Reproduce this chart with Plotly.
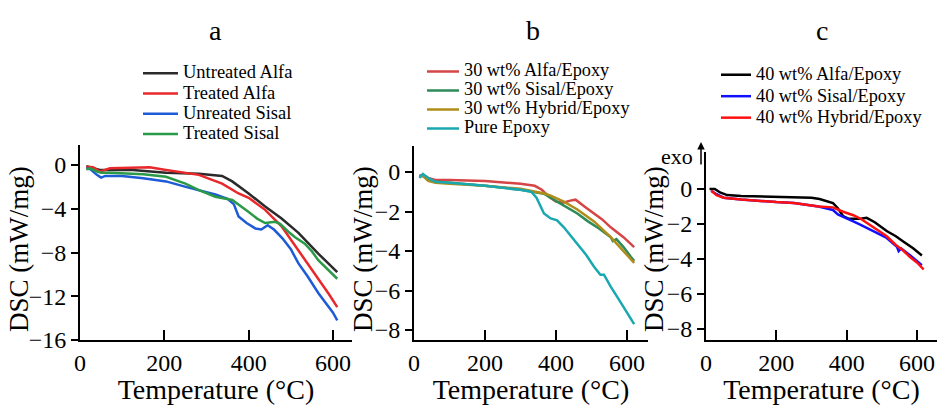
import plotly.graph_objects as go

# ---------------- Data (panel a) ----------------
a_black_T = [15, 25, 35, 47, 70, 125, 204, 250, 282, 337, 361, 400, 439, 478, 518, 565, 590, 610]
a_black_v = [-0.1, -0.2, -0.35, -0.45, -0.45, -0.45, -0.7, -0.75, -0.8, -1.0, -1.5, -2.6, -3.8, -4.9, -6.2, -8.1, -9.0, -9.8]

a_red_T = [15, 25, 31, 47, 71, 120, 165, 204, 243, 282, 337, 376, 400, 439, 478, 518, 549, 565, 590, 610]
a_red_v = [-0.15, -0.15, -0.2, -0.6, -0.3, -0.25, -0.2, -0.45, -0.7, -0.9, -1.7, -2.6, -3.0, -4.1, -5.6, -7.8, -9.6, -10.5, -11.8, -13.0]

a_blue_T = [15, 25, 40, 50, 60, 100, 150, 204, 251, 321, 350, 365, 376, 395, 416, 430, 445, 460, 480, 500, 518, 540, 565, 585, 600, 610]
a_blue_v = [-0.3, -0.4, -0.9, -1.15, -1.0, -1.0, -1.2, -1.5, -2.0, -2.7, -3.1, -3.6, -4.7, -5.3, -5.8, -5.9, -5.5, -5.9, -6.7, -7.7, -9.0, -10.2, -11.7, -12.7, -13.5, -14.2]

a_green_T = [15, 25, 40, 50, 70, 100, 150, 204, 250, 282, 321, 361, 380, 400, 420, 439, 463, 475, 494, 510, 533, 550, 565, 590, 610]
a_green_v = [-0.4, -0.3, -0.6, -0.7, -0.7, -0.75, -0.85, -1.07, -1.7, -2.3, -2.9, -3.2, -3.7, -4.3, -4.9, -5.3, -5.2, -5.4, -6.1, -6.6, -7.2, -7.9, -8.7, -9.6, -10.4]

# ---------------- Data (panel b) ----------------
b_red_T = [15, 25, 40, 60, 100, 200, 300, 340, 360, 380, 400, 420, 440, 455, 480, 507, 530, 554, 590, 620]
b_red_v = [-0.2, -0.15, -0.3, -0.4, -0.4, -0.45, -0.6, -0.7, -0.9, -1.25, -1.5, -1.55, -1.45, -1.4, -1.75, -2.1, -2.4, -2.8, -3.3, -3.8]

b_green_T = [15, 25, 40, 60, 100, 200, 300, 340, 366, 403, 430, 460, 490, 507, 520, 554, 560, 570, 590, 611, 620]
b_green_v = [-0.2, -0.2, -0.4, -0.5, -0.55, -0.7, -0.9, -1.0, -1.1, -1.5, -1.8, -2.1, -2.5, -2.7, -2.85, -3.3, -3.5, -3.4, -3.8, -4.3, -4.5]

b_olive_T = [15, 25, 40, 60, 100, 200, 300, 340, 370, 385, 422, 460, 507, 554, 580, 611, 620]
b_olive_v = [-0.2, -0.2, -0.45, -0.55, -0.6, -0.7, -0.85, -1.0, -1.1, -1.2, -1.5, -1.9, -2.5, -3.3, -3.8, -4.4, -4.6]

b_cyan_T = [15, 25, 40, 60, 100, 200, 300, 330, 345, 356, 366, 385, 403, 422, 440, 460, 485, 507, 525, 535, 554, 582, 600, 620]
b_cyan_v = [-0.3, -0.1, -0.3, -0.5, -0.55, -0.7, -0.9, -1.0, -1.3, -1.7, -2.1, -2.35, -2.45, -2.8, -3.2, -3.6, -4.2, -4.8, -5.2, -5.2, -5.8, -6.6, -7.1, -7.7]

# ---------------- Data (panel c) ----------------
c_black_T = [10, 25, 40, 60, 100, 200, 300, 323, 361, 375, 390, 405, 420, 440, 457, 480, 514, 540, 561, 590, 614]
c_black_v = [0.0, 0.0, -0.2, -0.35, -0.4, -0.45, -0.5, -0.57, -0.8, -1.1, -1.55, -1.7, -1.7, -1.7, -1.65, -1.9, -2.4, -2.7, -3.0, -3.4, -3.8]

c_blue_T = [15, 30, 50, 100, 200, 250, 320, 345, 361, 375, 390, 419, 440, 467, 490, 514, 543, 548, 555, 581, 600, 614]
c_blue_v = [-0.1, -0.3, -0.5, -0.6, -0.75, -0.8, -1.0, -1.1, -1.2, -1.45, -1.6, -1.85, -2.05, -2.3, -2.55, -2.8, -3.3, -3.55, -3.4, -3.8, -4.1, -4.35]

c_red_T = [15, 30, 50, 100, 200, 250, 320, 361, 390, 419, 440, 467, 490, 514, 540, 560, 581, 600, 619]
c_red_v = [-0.1, -0.35, -0.5, -0.6, -0.75, -0.8, -1.0, -1.05, -1.3, -1.5, -1.7, -2.05, -2.35, -2.7, -3.2, -3.5, -3.9, -4.2, -4.6]

x_ticks = [0, 200, 400, 600]
panel_labels = ["a", "b", "c"]
y_title = "DSC (mW/mg)"
x_title = "Temperature (°C)"

FONT = "Liberation Serif, Times New Roman, serif"
W, H = 937, 405

fig = go.Figure()

def add(xs, ys, name, color, xa, ya, legend, fs):
    fig.add_trace(go.Scatter(x=xs, y=ys, mode="lines",
                             name=f'<span style="font-size:{fs}px">{name}</span>',
                             line=dict(color=color, width=2.5),
                             xaxis=xa, yaxis=ya, legend=legend))

add(a_black_T, a_black_v, "Untreated Alfa", "#2b2b2b", "x", "y", "legend", 18.5)
add(a_red_T, a_red_v, "Treated Alfa", "#e8282b", "x", "y", "legend", 18.5)
add(a_blue_T, a_blue_v, "Unreated Sisal", "#1e5bd6", "x", "y", "legend", 18.5)
add(a_green_T, a_green_v, "Treated Sisal", "#2a9a48", "x", "y", "legend", 18.5)

add(b_red_T, b_red_v, "30 wt% Alfa/Epoxy", "#d64545", "x2", "y2", "legend2", 18.3)
add(b_green_T, b_green_v, "30 wt% Sisal/Epoxy", "#2e8b57", "x2", "y2", "legend2", 18.3)
add(b_olive_T, b_olive_v, "30 wt% Hybrid/Epoxy", "#b08c1a", "x2", "y2", "legend2", 18.3)
add(b_cyan_T, b_cyan_v, "Pure Epoxy", "#1aa8b0", "x2", "y2", "legend2", 18.3)

add(c_black_T, c_black_v, "40 wt% Alfa/Epoxy", "#000000", "x3", "y3", "legend3", 18.3)
add(c_blue_T, c_blue_v, "40 wt% Sisal/Epoxy", "#1010ff", "x3", "y3", "legend3", 18.3)
add(c_red_T, c_red_v, "40 wt% Hybrid/Epoxy", "#ff1010", "x3", "y3", "legend3", 18.3)

def px_x(p):
    return p / W

def px_y(p):
    return 1 - p / H

xcommon = dict(showline=True, linecolor="black", linewidth=2, ticks="inside", ticklen=10,
               tickwidth=2, tickcolor="black", showgrid=False, zeroline=False,
               tickvals=x_ticks, tickfont=dict(family=FONT, size=24, color="black"),
               ticklabelstandoff=0,
               title=dict(text=x_title, font=dict(family=FONT, size=28, color="black"), standoff=0),
               automargin=False)
ycommon = dict(showline=True, linecolor="black", linewidth=2, ticks="outside", ticklen=7,
               tickwidth=2, tickcolor="black", showgrid=False, zeroline=False,
               tickfont=dict(family=FONT, size=24, color="black"),
               automargin=False)

fig.update_layout(
    width=W, height=H, autosize=False,
    margin=dict(l=0, r=0, t=0, b=0),
    plot_bgcolor="white", paper_bgcolor="white",
    font=dict(family=FONT, color="black"),
    xaxis=dict(xcommon, domain=[px_x(80), px_x(352)], range=[0, 645], anchor="y"),
    yaxis=dict(ycommon, domain=[px_y(340), px_y(145)], range=[-16, 1.83],
               tickvals=[0, -4, -8, -12, -16], anchor="x"),
    xaxis2=dict(xcommon, domain=[px_x(414), px_x(648)], range=[0, 659], anchor="y2"),
    yaxis2=dict(ycommon, domain=[px_y(340), px_y(146)], range=[-8.506, 1.316],
                tickvals=[0, -2, -4, -6, -8], anchor="x2"),
    xaxis3=dict(xcommon, domain=[px_x(706), 1.0], range=[0, 657], anchor="y3"),
    yaxis3=dict(ycommon, domain=[px_y(340), px_y(152)], range=[-8.629, 2.114],
                tickvals=[0, -2, -4, -6, -8], anchor="x3"),
    legend=dict(x=px_x(138), y=px_y(58), xanchor="left", yanchor="top",
                bgcolor="rgba(0,0,0,0)", font=dict(family=FONT, size=13.3, color="black"),
                tracegroupgap=0, itemwidth=35),
    legend2=dict(x=px_x(422), y=px_y(57), xanchor="left", yanchor="top",
                 bgcolor="rgba(0,0,0,0)", font=dict(family=FONT, size=11.5, color="black"),
                 tracegroupgap=0, itemwidth=32),
    legend3=dict(x=px_x(716), y=px_y(59), xanchor="left", yanchor="top",
                 bgcolor="rgba(0,0,0,0)", font=dict(family=FONT, size=14.2, color="black"),
                 tracegroupgap=0),
    showlegend=True,
)

for lab, xp in zip(panel_labels, [215, 533, 822]):
    fig.add_annotation(text=lab, x=px_x(xp), y=px_y(30), xref="paper", yref="paper",
                       showarrow=False, font=dict(family=FONT, size=28, color="black"),
                       xanchor="center", yanchor="middle")

# y-axis titles
for xp in [19, 363, 654]:
    fig.add_annotation(text=y_title, x=px_x(xp), y=px_y(249), xref="paper", yref="paper",
                       showarrow=False, textangle=-90,
                       font=dict(family=FONT, size=27, color="black"),
                       xanchor="center", yanchor="middle")

fig.add_annotation(text="exo", x=px_x(677), y=px_y(156), xref="paper", yref="paper",
                   showarrow=False, font=dict(family=FONT, size=22, color="black"),
                   xanchor="center", yanchor="middle")
fig.add_annotation(text="", x=px_x(701), y=px_y(142), xref="paper", yref="paper",
                   showarrow=True, ax=0, ay=24, arrowhead=2, arrowsize=1, arrowwidth=1.5,
                   arrowcolor="black")

fig.write_html("out.html", config={"displayModeBar": False},
               post_script="document.body.style.margin='0';document.body.style.padding='0';")
